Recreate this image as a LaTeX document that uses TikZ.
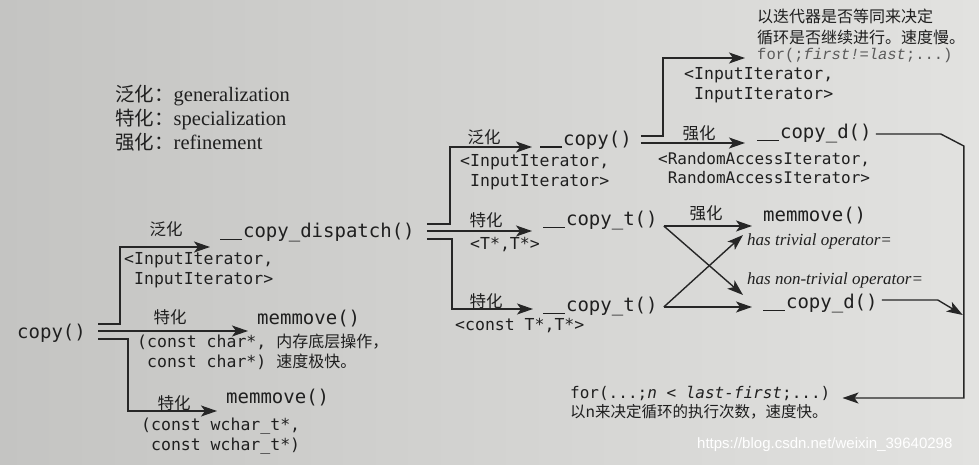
\documentclass[tikz,border=0pt]{standalone}
\usepackage{fontspec}
\setmainfont{Liberation Serif}
\newfontfamily\codefont{DejaVu Sans Mono}
\newfontfamily\cmono{Liberation Mono}
\newfontfamily\cn{Noto Sans CJK SC}
\newfontfamily\wmfont{Liberation Sans}
\usetikzlibrary{arrows.meta}
\definecolor{ink}{HTML}{1F1F1F}
\definecolor{linec}{HTML}{262626}
\definecolor{paperL}{HTML}{C4C4C2}
\definecolor{paperR}{HTML}{E2E2E0}
\definecolor{fadeink}{HTML}{5A5A5A}
\newcommand\dund{\makebox[1.204em][l]{\rule[-0.13em]{1.15em}{0.07em}}}
\begin{document}
\begin{tikzpicture}[x=1pt,y=-1pt,
  fn/.style={font=\codefont\fontsize{19}{22}\selectfont, text=ink, inner sep=0pt, anchor=west},
  par/.style={font=\codefont\fontsize{16.5}{20}\selectfont, text=ink, inner sep=0pt, anchor=west, align=left},
  tag/.style={font=\cn\fontsize{16.5}{20}\selectfont, text=ink, inner sep=0pt},
  note/.style={font=\cn\fontsize{16}{21}\selectfont, text=ink, inner sep=0pt, anchor=west, align=left},
  cond/.style={font=\fontsize{17}{20}\selectfont\itshape, text=ink, inner sep=0pt, anchor=west},
  legend/.style={font=\fontsize{20.5}{23}\selectfont, text=ink, inner sep=0pt, anchor=west},
  arr/.style={draw=linec, line width=1.4pt, -{Stealth[length=16pt,width=11pt,inset=4pt]}},
]
\useasboundingbox (0,0) rectangle (979,465);
\shade[left color=paperL, right color=paperR] (0,0) rectangle (979,465);

% legend
\node[legend] (lg1) at (115,96) {{\cn\fontsize{19.5}{22}\selectfont 泛化：}generalization};
\node[legend] (lg2) at (115,119) {{\cn\fontsize{19.5}{22}\selectfont 特化：}specialization};
\node[legend] (lg3) at (115,142) {{\cn\fontsize{19.5}{22}\selectfont 强化：}refinement};

% function nodes
\node[fn] (copyN) at (17,333) {copy()};
\node[fn] (disp) at (220,233) {\dund copy\_dispatch()};
\node[fn] (mm1) at (257,319) {memmove()};
\node[fn] (mm2) at (226,398) {memmove()};
\node[fn] (cp) at (540,140) {\dund copy()};
\node[fn] (ct1) at (543,221) {\dund copy\_t()};
\node[fn] (ct2) at (543,307) {\dund copy\_t()};
\node[fn] (cd1) at (757,134) {\dund copy\_d()};
\node[fn] (mm3) at (763,216) {memmove()};
\node[fn] (cd2) at (763,304) {\dund copy\_d()};

% notes
\node[note] (slow) at (757,27) {以迭代器是否等同来决定\\循环是否继续进行。速度慢。};
\node[anchor=west, inner sep=0pt, font=\cmono\fontsize{15.5}{18}\selectfont, text=fadeink] (forTop) at (757,55) {for(;\textit{first!=last};...)};
\node[anchor=west, inner sep=0pt, font=\codefont\fontsize{16}{20}\selectfont, text=ink] (forBot) at (570,393) {for(...;\textit{n < last-first};...)};
\node[note, font=\cn\fontsize{15.5}{20}\selectfont] (fast) at (570,412) {以n来决定循环的执行次数，速度快。};

% labels
\node[tag] (t1) at (166,229) {泛化};
\node[par] (p1) at (124,270) {<InputIterator,\\\phantom{<}InputIterator>};
\node[tag] (t2) at (170,317) {特化};
\node[par] (p2) at (137,352) {(const char*, {\cn\fontsize{16}{20}\selectfont 内存底层操作，}\\\phantom{(}const char*) {\cn\fontsize{16}{20}\selectfont 速度极快。}};
\node[tag] (t3) at (174,403) {特化};
\node[par] (p3) at (141,436) {(const wchar\_t*,\\\phantom{(}const wchar\_t*)};
\node[tag] (t4) at (484,137) {泛化};
\node[par] (p4) at (460,172) {<InputIterator,\\\phantom{<}InputIterator>};
\node[tag] (t5) at (486,220) {特化};
\node[par] (p5) at (470,245) {<T*,T*>};
\node[tag] (t6) at (486,301) {特化};
\node[par] (p6) at (455,326) {<const T*,T*>};
\node[par] (p7) at (684,85) {<InputIterator,\\\phantom{<}InputIterator>};
\node[tag] (t7) at (699,133) {强化};
\node[par, font=\codefont\fontsize{16}{19.5}\selectfont] (p8) at (658,168) {<RandomAccessIterator,\\\phantom{<}RandomAccessIterator>};
\node[tag] (t8) at (706,213) {强化};
\node[cond] (c1) at (747,241) {has trivial operator=};
\node[cond] (c2) at (747,280) {has non-trivial operator=};

\node[anchor=west, inner sep=0pt, font=\wmfont\fontsize{15}{18}\selectfont, text=white] (wm) at (697,445) {https://blog.csdn.net/weixin\_39640298};

% connectors from copy()
\draw[arr] ([xshift=12pt,yshift=9pt]copyN.east) -| ([xshift=-100pt,yshift=-14pt]disp.west) -- ([xshift=-10pt,yshift=-14pt]disp.west);
\draw[arr] ([xshift=12pt,yshift=2pt]copyN.east) -- ([xshift=-9pt,yshift=-12pt]mm1.west);
\draw[arr] ([xshift=12pt,yshift=-6pt]copyN.east) -| ([xshift=-98pt,yshift=-13pt]mm2.west) -- ([xshift=-9pt,yshift=-13pt]mm2.west);

% connectors from __copy_dispatch()
\draw[arr] ([xshift=12pt,yshift=9pt]disp.east) -| ([xshift=-90pt,yshift=-7pt]cp.west) -- ([xshift=-8pt,yshift=-7pt]cp.west);
\draw[arr] ([xshift=12pt,yshift=2pt]disp.east) -- ([xshift=-11pt,yshift=-10pt]ct1.west);
\draw[arr] ([xshift=12pt,yshift=-6pt]disp.east) -| ([xshift=-91pt,yshift=-2pt]ct2.west) -- ([xshift=-10pt,yshift=-2pt]ct2.west);

% connectors from __copy()
\draw[arr] ([xshift=9pt,yshift=4pt]cp.east) -| ([xshift=-94pt,yshift=-3pt]forTop.west) -- ([xshift=-12pt,yshift=-3pt]forTop.west);
\draw[arr] ([xshift=9pt,yshift=-3pt]cp.east) -- ([xshift=-12pt,yshift=-9pt]cd1.west);

% __copy_d() to for loop
\draw[arr] ([xshift=4pt]cd1.east) -- ++(65,0) -- ++(23,12) |- ([xshift=12pt,yshift=-5pt]forBot.east);
\draw[arr] ([xshift=4pt,yshift=4pt]cd2.east) -- ++(56,0) -- ++(25,15);

% crossing connectors
\draw[arr] ([xshift=6pt,yshift=-5pt]ct1.east) -- ([xshift=-11pt,yshift=-10pt]mm3.west);
\draw[arr] ([xshift=6pt,yshift=-5pt]ct1.east) -- ([xshift=-20pt,yshift=9pt]cd2.west);
\draw[arr] ([xshift=6pt]ct2.east) -- ([xshift=-11pt,yshift=-3pt]cd2.west);
\draw[arr] ([xshift=6pt]ct2.east) -- ([xshift=-20pt,yshift=-19pt]mm3.west);
\end{tikzpicture}
\end{document}
